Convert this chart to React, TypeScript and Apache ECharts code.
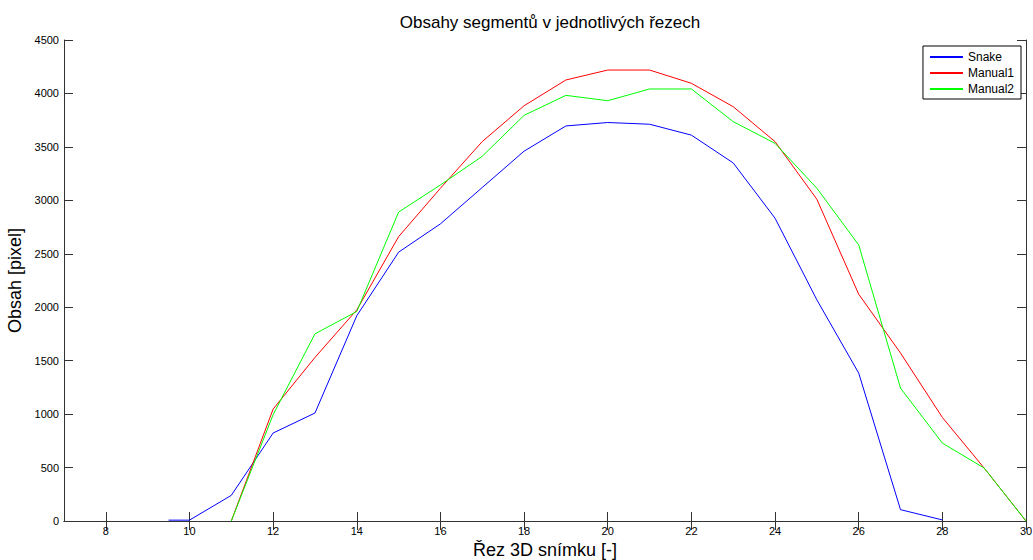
import React, { useEffect, useRef } from "react";
import * as echarts from "echarts";

const snakeX = [9.5, 10, 11, 12, 13, 14, 15, 16, 17, 18, 19, 20, 21, 22, 23, 24, 25, 26, 27, 28];
const snakeY = [8, 8, 240, 823, 1010, 1920, 2515, 2780, 3120, 3460, 3696, 3728, 3712, 3610, 3350, 2833, 2069, 1384, 106, 10];

const manX = [11, 12, 13, 14, 15, 16, 17, 18, 19, 20, 21, 22, 23, 24, 25, 26, 27, 28, 29, 30];
const manual1 = [0, 1047, 1530, 1975, 2660, 3113, 3550, 3885, 4126, 4219, 4219, 4095, 3876, 3549, 3010, 2122, 1571, 969, 495, 0];
const manual2 = [0, 995, 1751, 1960, 2890, 3144, 3412, 3795, 3982, 3932, 4042, 4042, 3736, 3533, 3113, 2583, 1243, 729, 495, 0];

const xTicks = [8, 10, 12, 14, 16, 18, 20, 22, 24, 26, 28, 30];

const pairs = (xs: number[], ys: number[]) => xs.map((x, i) => [x, ys[i]]);

export default function App() {
  const ref = useRef<HTMLDivElement>(null);
  useEffect(() => {
    if (!ref.current) return;
    const chart = echarts.init(ref.current, undefined, { renderer: "svg" });
    const font = "Liberation Sans, Arial, sans-serif";
    const axisLine = { show: true, lineStyle: { color: "#333", width: 1 } };
    const axisTick = { show: true, inside: true, length: 9, lineStyle: { color: "#333" } };
    chart.setOption({
      animation: false,
      backgroundColor: "#fff",
      title: {
        text: "Obsahy segmentů v jednotlivých řezech",
        left: 545,
        textAlign: "center",
        top: 9,
        textStyle: { fontFamily: font, fontSize: 17, fontWeight: "normal", color: "#000" },
      },
      grid: { left: 64, right: 7, top: 40, bottom: 39, containLabel: false, outerBoundsMode: "none" },
      legend: {
        orient: "vertical",
        right: 12,
        top: 46,
        backgroundColor: "#fff",
        borderColor: "#000",
        borderWidth: 1,
        padding: [5, 7, 4, 7],
        itemWidth: 33,
        itemHeight: 2,
        itemGap: 4,
        icon: "rect",
        textStyle: { fontFamily: font, fontSize: 12, color: "#000", padding: [0, 0, 0, 0] },
        data: ["Snake", "Manual1", "Manual2"],
      },
      xAxis: [
        {
          type: "value",
          min: 7,
          max: 30,
          axisLine,
          axisTick: { ...axisTick, customValues: xTicks },
          splitLine: { show: false },
          axisLabel: {
            fontFamily: font,
            fontSize: 11,
            color: "#000",
            margin: 4,
            customValues: xTicks,
          },
          name: "Řez 3D snímku [-]",
          nameLocation: "middle",
          nameGap: 10,
          nameTextStyle: { fontFamily: font, fontSize: 18, color: "#000" },
        },
        {
          type: "value",
          position: "top",
          min: 7,
          max: 30,
          axisLine,
          axisTick: { ...axisTick, customValues: xTicks },
          axisLabel: { show: false },
          splitLine: { show: false },
        },
      ],
      yAxis: [
        {
          type: "value",
          min: 0,
          max: 4500,
          interval: 500,
          axisLine,
          axisTick,
          splitLine: { show: false },
          axisLabel: { fontFamily: font, fontSize: 11, color: "#000", margin: 5, formatter: (v: number) => String(v) },
          name: "Obsah [pixel]",
          nameLocation: "middle",
          nameGap: 36,
          nameTextStyle: { fontFamily: font, fontSize: 18, color: "#000" },
        },
        {
          type: "value",
          position: "right",
          min: 0,
          max: 4500,
          interval: 500,
          axisLine,
          axisTick,
          axisLabel: { show: false },
          splitLine: { show: false },
        },
      ],
      series: [
        {
          name: "Snake",
          type: "line",
          data: pairs(snakeX, snakeY),
          symbol: "none",
          lineStyle: { color: "#0000ff", width: 1 },
          itemStyle: { color: "#0000ff" },
        },
        {
          name: "Manual1",
          type: "line",
          data: pairs(manX, manual1),
          symbol: "none",
          lineStyle: { color: "#ff0000", width: 1 },
          itemStyle: { color: "#ff0000" },
        },
        {
          name: "Manual2",
          type: "line",
          data: pairs(manX, manual2),
          symbol: "none",
          lineStyle: { color: "#00ff00", width: 1 },
          itemStyle: { color: "#00ff00" },
        },
      ],
    });
    return () => chart.dispose();
  }, []);
  return <div ref={ref} style={{ width: 1033, height: 560, position: "absolute", left: 0, top: 0 }} />;
}
